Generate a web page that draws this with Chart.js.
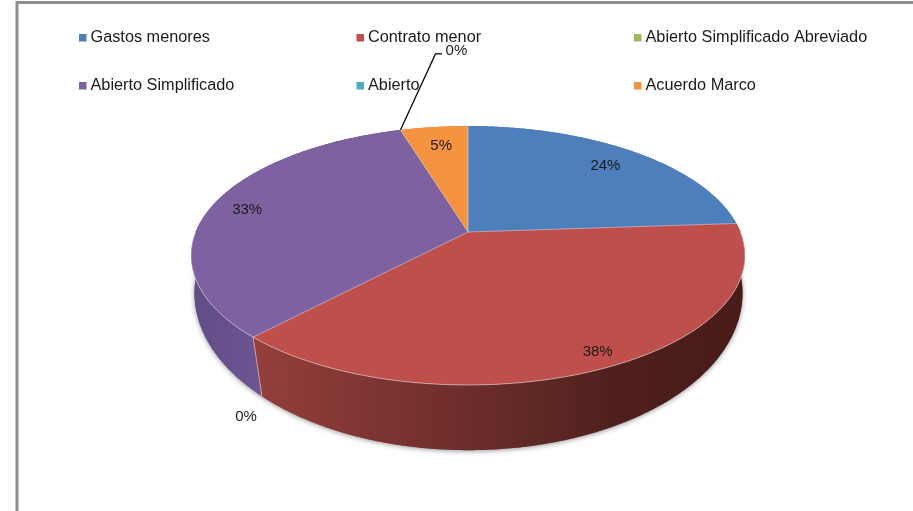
<!DOCTYPE html>
<html><head><meta charset="utf-8">
<style>html,body{margin:0;padding:0;background:#fff}canvas{display:block}</style>
<script src="https://cdn.jsdelivr.net/npm/chart.js@4/dist/chart.umd.min.js"></script>
</head><body><canvas id="c" width="913" height="511"></canvas>
<script>
const categories=["Gastos menores","Contrato menor","Abierto Simplificado Abreviado","Abierto Simplificado","Abierto","Acuerdo Marco"];
const values=[23.9,38.1,0,33.3,0,4.7];
const colors=["#4c7fbc","#bf4f4b","#9bbb59","#7e61a0","#4bacc6","#f6933f"];
const labelRadius=[0.82,0.89,0,0.85,0,0.81];
const labelNudge=[[0,0],[8,0],[0,0],[-3,-1],[0,0],[1.5,-1]];
const zeroLabelOffset={2:[-7,78],4:[56,-81]};

const view={cx:468,cy:232,R:272.4,b:125.2,k:-0.1815};
const floorView={cx:468.5,cy:271.5,R:271.4,b:154,k:-0.138};
const TAU=Math.PI*2;
function project(u,v,p){const d=1+p.k*v;return [p.cx+p.R*u/d,p.cy+p.b*v/d];}
function rim(a,p){return project(Math.cos(a),Math.sin(a),p);}
function samples(a0,a1){const n=Math.max(2,Math.ceil((a1-a0)/0.01));const out=[];for(let i=0;i<=n;i++)out.push(a0+(a1-a0)*i/n);return out;}

function sideFill(ctx,i){
  if(i===1){const g=ctx.createLinearGradient(258,0,745,0);
    g.addColorStop(0,"#933f3b");g.addColorStop(.25,"#7d3431");g.addColorStop(.5,"#662b28");g.addColorStop(.75,"#4e1f1c");g.addColorStop(1,"#491c19");return g;}
  if(i===3){const g=ctx.createLinearGradient(195,0,262,0);
    g.addColorStop(0,"#624d88");g.addColorStop(1,"#6c5593");return g;}
  return colors[i];
}

const pie3d={
  id:"pie3d",
  beforeDraw(chart){
    const ctx=chart.ctx;ctx.save();
    ctx.strokeStyle="#8f8f8f";ctx.lineWidth=3;
    ctx.beginPath();ctx.moveTo(17,520);ctx.lineTo(17,2.5);ctx.lineTo(920,2.5);ctx.stroke();
    ctx.restore();
  },
  beforeDatasetsDraw(chart){
    const ctx=chart.ctx,arcs=chart.getDatasetMeta(0).data;
    ctx.save();
    // soft shadow under the disc
    ctx.save();
    ctx.shadowColor="rgba(60,60,60,.55)";ctx.shadowBlur=5;ctx.shadowOffsetY=1;
    ctx.fillStyle="#777";ctx.beginPath();
    samples(0,TAU).forEach((a,j)=>{const q=rim(a,floorView);j?ctx.lineTo(q[0],q[1]):ctx.moveTo(q[0],q[1]);});
    ctx.closePath();ctx.fill();ctx.restore();
    // side walls
    arcs.forEach((el,i)=>{
      if(el.endAngle-el.startAngle<=0)return;
      const as=samples(el.startAngle,el.endAngle);
      ctx.beginPath();
      as.forEach((a,j)=>{const q=rim(a,view);j?ctx.lineTo(q[0],q[1]):ctx.moveTo(q[0],q[1]);});
      as.slice().reverse().forEach(a=>{const q=rim(a,floorView);ctx.lineTo(q[0],q[1]);});
      ctx.closePath();ctx.fillStyle=sideFill(ctx,i);ctx.fill();
    });
    // edge between red and purple walls
    const seam=arcs[1].endAngle,s0=rim(seam,view),s1=rim(seam,floorView);
    ctx.strokeStyle="rgba(225,170,175,.85)";ctx.lineWidth=1;
    ctx.beginPath();ctx.moveTo(s0[0],s0[1]);ctx.lineTo(s1[0],s1[1]);ctx.stroke();
    // top faces
    arcs.forEach((el,i)=>{
      if(el.endAngle-el.startAngle<=0)return;
      ctx.beginPath();ctx.moveTo(view.cx,view.cy);
      samples(el.startAngle,el.endAngle).forEach(a=>{const q=rim(a,view);ctx.lineTo(q[0],q[1]);});
      ctx.closePath();ctx.fillStyle=colors[i];ctx.fill();
    });
    // pale seams between faces and along the front rim only
    ctx.strokeStyle="rgba(255,255,255,.4)";ctx.lineWidth=1;
    arcs.forEach(el=>{
      if(el.endAngle-el.startAngle<=0)return;
      const q=rim(el.startAngle,view);
      ctx.beginPath();ctx.moveTo(view.cx,view.cy);ctx.lineTo(q[0],q[1]);ctx.stroke();
    });
    ctx.beginPath();
    samples(0,Math.PI).forEach((a,j)=>{const q=rim(a,view);j?ctx.lineTo(q[0],q[1]):ctx.moveTo(q[0],q[1]);});
    ctx.strokeStyle="rgba(255,255,255,.5)";ctx.stroke();
    ctx.restore();
    return false;
  },
  afterDraw(chart){
    const ctx=chart.ctx,arcs=chart.getDatasetMeta(0).data;
    ctx.save();
    // legend
    const colX=[79,356.5,634],rowY=[38,86];
    ctx.textBaseline="middle";ctx.textAlign="left";ctx.font='16.3px "Liberation Sans"';
    categories.forEach((name,i)=>{
      const x=colX[i%3],y=rowY[Math.floor(i/3)];
      ctx.fillStyle=colors[i];ctx.fillRect(x,y-4,7.5,7.5);
      ctx.fillStyle="#1a1a1a";ctx.fillText(name,x+11.5,y);
    });
    // data labels
    ctx.font='15px "Liberation Sans"';ctx.textAlign="center";
    arcs.forEach((el,i)=>{
      const mid=(el.startAngle+el.endAngle)/2,text=Math.round(values[i])+"%";
      let x,y;
      if(values[i]>0){
        const r=labelRadius[i];[x,y]=project(r*Math.cos(mid),r*Math.sin(mid),view);
        x+=labelNudge[i][0];y+=labelNudge[i][1];
      }else{
        const q=rim(mid,view),o=zeroLabelOffset[i];x=q[0]+o[0];y=q[1]+o[1];
        if(i===4){
          ctx.strokeStyle="#000";ctx.lineWidth=1.25;ctx.beginPath();
          ctx.moveTo(q[0],q[1]);ctx.lineTo(x-21,y+5);ctx.lineTo(x-14.5,y+5);ctx.stroke();
        }
      }
      ctx.fillStyle="#1a1a1a";ctx.fillText(text,x,y+2);
    });
    ctx.restore();
  }
};

new Chart(document.getElementById("c"),{
  type:"pie",
  data:{labels:categories,datasets:[{data:values,backgroundColor:colors,borderWidth:0}]},
  options:{responsive:false,animation:false,rotation:0,
    plugins:{legend:{display:false},tooltip:{enabled:false}}},
  plugins:[pie3d]
});
</script></body></html>
